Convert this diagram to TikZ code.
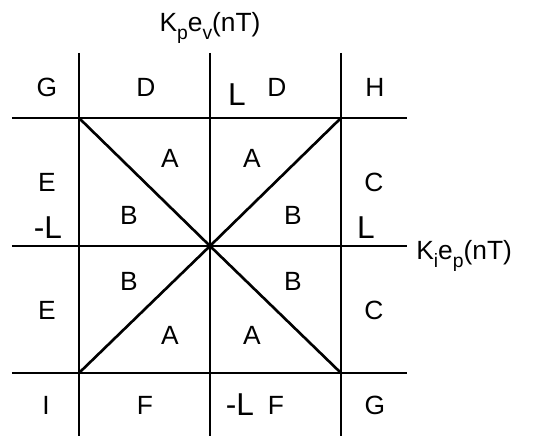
\documentclass[tikz,border=0pt]{standalone}
\usepackage{fontspec}
\setmainfont{Liberation Sans}
\newcommand{\lowsub}[1]{\raisebox{-0.55ex}{\fontsize{11}{13}\selectfont #1}}
\begin{document}
\begin{tikzpicture}[line width=1.5pt,
  lbl/.style={inner sep=0pt,font=\fontsize{15}{18}\selectfont},
  lim/.style={inner sep=0pt,font=\fontsize{18}{21}\selectfont}]

\useasboundingbox (-4.2,-3.8) rectangle (6.76,4.92);

% Ends of the grid lines
\coordinate (htopL) at (-3.96,2.56);  \coordinate (htopR) at (3.94,2.56);
\coordinate (hmidL) at (-3.96,0);     \coordinate (hmidR) at (3.94,0);
\coordinate (hbotL) at (-3.96,-2.54); \coordinate (hbotR) at (3.94,-2.54);
\coordinate (vleftT) at (-2.62,3.86); \coordinate (vleftB) at (-2.62,-3.8);
\coordinate (vmidT) at (0,3.86);      \coordinate (vmidB) at (0,-3.8);
\coordinate (vrightT) at (2.62,3.86); \coordinate (vrightB) at (2.62,-3.8);

% Corners of the square and origin
\coordinate (O) at (0,0);
\coordinate (tl) at (-2.62,2.56); \coordinate (tr) at (2.62,2.56);
\coordinate (bl) at (-2.62,-2.54); \coordinate (br) at (2.62,-2.54);

% Horizontal lines
\draw (htopL) -- (htopR);
\draw (hmidL) -- (hmidR);
\draw (hbotL) -- (hbotR);

% Vertical lines
\draw (vleftT) -- (vleftB);
\draw (vmidT) -- (vmidB);
\draw (vrightT) -- (vrightB);

% Diagonals through the origin
\draw (tl) -- (O) -- (br);
\draw (tr) -- (O) -- (bl);

% Axis labels
\node[lbl,anchor=base] (yaxis) at (0,4.28) {K\lowsub{p}e\lowsub{v}(nT)};
\node[lbl,anchor=base west] (xaxis) at (4.1,-0.28) {K\lowsub{i}e\lowsub{p}(nT)};

% Limits
\node[lim] (Ltop) at (0.54,3.02) {L};
\node[lim] (Lright) at (3.12,0.36) {L};
\node[lim] (Lleft) at (-3.24,0.36) {-L};
\node[lim] (Lbot) at (0.6,-3.18) {-L};

% Outer regions
\node[lbl] (G1) at (-3.26,3.18) {G};
\node[lbl] (D1) at (-1.28,3.18) {D};
\node[lbl] (D2) at (1.34,3.18) {D};
\node[lbl] (H) at (3.3,3.18) {H};
\node[lbl] (E1) at (-3.26,1.28) {E};
\node[lbl] (E2) at (-3.26,-1.28) {E};
\node[lbl] (C1) at (3.28,1.28) {C};
\node[lbl] (C2) at (3.28,-1.28) {C};
\node[lbl] (I) at (-3.28,-3.18) {I};
\node[lbl] (F1) at (-1.3,-3.18) {F};
\node[lbl] (F2) at (1.32,-3.18) {F};
\node[lbl] (G2) at (3.3,-3.18) {G};

% Inner regions
\node[lbl] (A1) at (-0.8,1.76) {A};
\node[lbl] (A2) at (0.84,1.76) {A};
\node[lbl] (A3) at (-0.8,-1.78) {A};
\node[lbl] (A4) at (0.84,-1.78) {A};
\node[lbl] (B1) at (-1.62,0.62) {B};
\node[lbl] (B2) at (1.66,0.62) {B};
\node[lbl] (B3) at (-1.62,-0.7) {B};
\node[lbl] (B4) at (1.66,-0.7) {B};

\end{tikzpicture}
\end{document}
